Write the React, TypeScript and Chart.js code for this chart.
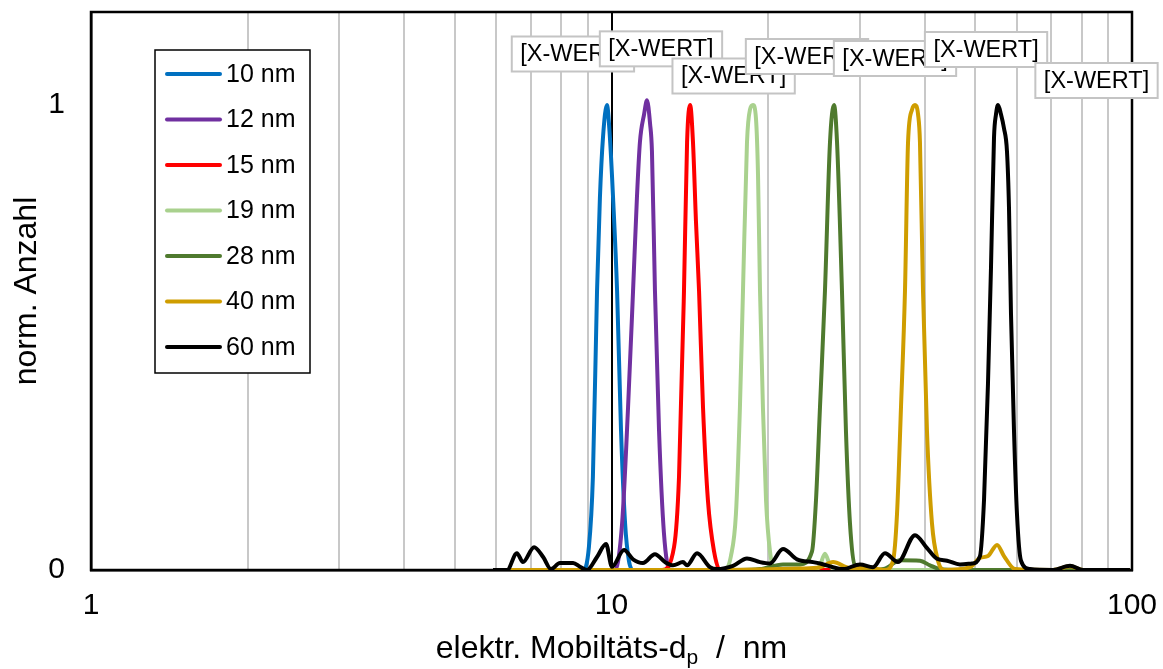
import React, { useEffect, useRef } from 'react';
import { Chart, registerables } from 'chart.js';

Chart.register(...registerables);

// ---------- data ----------
const SERIES_LABELS = ['10 nm', '12 nm', '15 nm', '19 nm', '28 nm', '40 nm', '60 nm'];
const SERIES_COLORS = ['#0070C0', '#7030A0', '#FF0000', '#A9D18E', '#4F7A2E', '#CF9D00', '#000000'];
const X_TICKS = [1, 2, 3, 4, 5, 6, 7, 8, 9, 10, 20, 30, 40, 50, 60, 70, 80, 90, 100];
const X_LABELED = [1, 10, 100];
const Y_LABELED = [0, 1];
const DATA_LABEL_TEXT = '[X-WERT]';
const X_TITLE_MAIN = 'elektr. Mobiltäts-d';
const X_TITLE_SUB = 'p';
const X_TITLE_REST = '  /  nm';
const Y_TITLE = 'norm. Anzahl';

const d10x = [5.92, 8.82, 9.05, 9.21, 9.38, 9.5, 9.63, 9.8, 9.93, 10.07, 10.25, 10.43, 10.62, 10.8, 11.0, 99.1];
const d10y = [0, 0, 0.05, 0.2, 0.6, 0.8, 0.93, 1.0, 0.93, 0.8, 0.6, 0.3, 0.1, 0.02, 0, 0];

const d12x = [5.92, 10.16, 10.48, 10.76, 11.0, 11.19, 11.34, 11.55, 11.7, 11.86, 11.96, 12.12, 12.34, 12.61, 12.95, 99.1];
const d12y = [0, 0, 0.1, 0.35, 0.6, 0.8, 0.92, 0.98, 1.01, 0.96, 0.9, 0.6, 0.3, 0.08, 0, 0];

const d15x = [5.92, 12.51, 13.19, 13.48, 13.78, 13.97, 14.16, 14.34, 14.53, 14.73, 14.99, 15.32, 15.74, 16.16, 99.1];
const d15y = [0, 0, 0.05, 0.2, 0.6, 0.92, 1.0, 0.92, 0.75, 0.6, 0.35, 0.15, 0.04, 0, 0];

const d19x = [5.92, 16.52, 16.96, 17.34, 17.65, 17.89, 18.21, 18.45, 18.7, 18.95, 19.12, 19.29, 19.54, 19.81, 20.16, 20.62, 24.6, 25.15, 25.71, 26.29, 27.0, 99.1];
const d19y = [0, 0, 0.03, 0.12, 0.35, 0.6, 0.92, 0.99, 1.0, 0.97, 0.85, 0.6, 0.35, 0.15, 0.04, 0, 0, 0.01, 0.035, 0.01, 0, 0];

const d28x = [5.92, 17.65, 19.29, 21.35, 23.03, 24.28, 24.71, 25.15, 25.71, 26.29, 26.76, 27.12, 27.72, 28.21, 28.72, 29.36, 31.37, 33.53, 35.83, 39.14, 40.91, 42.77, 46.72, 99.1];
const d28y = [0, 0, 0.002, 0.012, 0.012, 0.04, 0.15, 0.35, 0.6, 0.92, 1.0, 0.92, 0.6, 0.3, 0.1, 0.01, 0, 0.003, 0.021, 0.02, 0.01, 0.002, 0, 0];

const d40x = [5.92, 14.8, 23.03, 25.15, 26.65, 28.72, 31.37, 33.53, 34.74, 35.36, 35.99, 36.63, 37.13, 37.79, 38.3, 38.81, 39.14, 39.67, 40.37, 41.28, 42.39, 43.54, 48.84, 51.04, 52.88, 55.05, 56.76, 59.59, 70.52, 76.02, 80.52, 99.1];
const d40y = [0, 0, 0.003, 0.006, 0.017, 0.004, 0.005, 0, 0.02, 0.12, 0.35, 0.6, 0.92, 0.99, 1.0, 0.98, 0.92, 0.6, 0.3, 0.1, 0.02, 0, 0.006, 0.026, 0.03, 0.054, 0.03, 0.002, 0, 0.008, 0, 0];

const d60x = [5.92, 6.3, 6.58, 6.76, 7.1, 7.39, 7.65, 7.96, 8.44, 8.7, 8.97, 9.38, 9.76, 10.02, 10.57, 11.0, 11.49, 12.12, 12.67, 13.13, 13.72, 13.97, 14.6, 15.46, 15.95, 17.12, 18.21, 19.29, 20.16, 21.35, 22.72, 24.39, 25.16, 27.85, 30.02, 31.8, 33.53, 35.51, 38.3, 40.39, 42.21, 44.12, 46.72, 49.27, 51.04, 51.96, 52.88, 53.59, 54.31, 54.79, 55.28, 56.01, 56.76, 57.52, 58.03, 58.55, 59.33, 60.12, 61.19, 63.68, 70.52, 76.02, 80.52, 99.1];
const d60y = [0, 0, 0.036, 0.017, 0.049, 0.028, 0.002, 0.015, 0.015, 0.007, 0, 0.028, 0.056, 0.007, 0.043, 0.023, 0.015, 0.034, 0.017, 0.01, 0.017, 0.01, 0.036, 0.006, 0.002, 0.009, 0.025, 0.017, 0.014, 0.045, 0.023, 0.017, 0.014, 0.002, 0.012, 0.006, 0.036, 0.017, 0.075, 0.047, 0.024, 0.02, 0.012, 0.014, 0.03, 0.15, 0.4, 0.65, 0.93, 0.98, 1.0, 0.98, 0.95, 0.9, 0.78, 0.55, 0.3, 0.12, 0.02, 0.002, 0, 0.009, 0, 0];

const SERIES_X = [d10x, d12x, d15x, d19x, d28x, d40x, d60x];
const SERIES_Y = [d10y, d12y, d15y, d19y, d28y, d40y, d60y];

// ---------- style ----------
const FONT = '"Liberation Sans", Arial, sans-serif';
const TICK_SIZE = 30;
const LEGEND_SIZE = 25;
const TITLE_SIZE = 32;
const LABEL_SIZE = 23.5;
// data-label box centre offsets relative to each peak (px)
const LABEL_OFFSETS = [
  [-34, -51], [14, -51.5], [43.5, -29], [54, -48.5], [61, -46.5], [71, -55.5], [98.5, -24.5],
];

const framePlugin = {
  id: 'frame',
  beforeDatasetsDraw(chart: any) {
    const { ctx, chartArea: a } = chart;
    ctx.save();
    ctx.strokeStyle = '#000';
    ctx.lineWidth = 2.5;
    ctx.strokeRect(a.left, a.top, a.right - a.left, a.bottom - a.top);
    ctx.restore();
  },
};

const legendPlugin = {
  id: 'customLegend',
  afterDatasetsDraw(chart: any) {
    const { ctx, chartArea: a } = chart;
    const bx = a.left + 64, by = a.top + 38, bw = 155, bh = 323;
    ctx.save();
    ctx.fillStyle = '#fff';
    ctx.fillRect(bx, by, bw, bh);
    ctx.strokeStyle = '#000';
    ctx.lineWidth = 1.5;
    ctx.strokeRect(bx, by, bw, bh);
    ctx.font = `${LEGEND_SIZE}px ${FONT}`;
    ctx.textBaseline = 'middle';
    ctx.textAlign = 'left';
    SERIES_LABELS.forEach((lab, i) => {
      const y = by + 24 + i * 45.5;
      ctx.strokeStyle = SERIES_COLORS[i];
      ctx.lineWidth = 4;
      ctx.lineCap = 'round';
      ctx.beginPath();
      ctx.moveTo(bx + 12, y);
      ctx.lineTo(bx + 65, y);
      ctx.stroke();
      ctx.fillStyle = '#000';
      ctx.fillText(lab, bx + 71, y + 1);
    });
    ctx.restore();
  },
};

const dataLabelPlugin = {
  id: 'dataLabels',
  afterDatasetsDraw(chart: any) {
    const { ctx } = chart;
    ctx.save();
    ctx.font = `${LABEL_SIZE}px ${FONT}`;
    ctx.textBaseline = 'middle';
    ctx.textAlign = 'center';
    chart.data.datasets.forEach((ds: any, i: number) => {
      const meta = chart.getDatasetMeta(i);
      let best = 0;
      ds.data.forEach((p: any, j: number) => { if (p.y > ds.data[best].y) best = j; });
      const el = meta.data[best];
      const cx = el.x + LABEL_OFFSETS[i][0];
      const cy = el.y + LABEL_OFFSETS[i][1];
      const w = ctx.measureText(DATA_LABEL_TEXT).width + 17;
      const h = 35;
      ctx.fillStyle = '#fff';
      ctx.fillRect(cx - w / 2, cy - h / 2, w, h);
      ctx.strokeStyle = '#c4c4c4';
      ctx.lineWidth = 2;
      ctx.strokeRect(cx - w / 2, cy - h / 2, w, h);
      ctx.fillStyle = '#000';
      ctx.fillText(DATA_LABEL_TEXT, cx, cy + 1);
    });
    ctx.restore();
  },
};

const titlesPlugin = {
  id: 'titles',
  afterDraw(chart: any) {
    const { ctx, chartArea: a } = chart;
    ctx.save();
    ctx.fillStyle = '#000';
    ctx.textBaseline = 'alphabetic';
    ctx.textAlign = 'left';
    const main = `${TITLE_SIZE}px ${FONT}`;
    const sub = `${Math.round(TITLE_SIZE * 0.65)}px ${FONT}`;
    ctx.font = main;
    const w1 = ctx.measureText(X_TITLE_MAIN).width;
    const w3 = ctx.measureText(X_TITLE_REST).width;
    ctx.font = sub;
    const w2 = ctx.measureText(X_TITLE_SUB).width;
    const total = w1 + w2 + w3;
    const cx = (a.left + a.right) / 2;
    const base = 658;
    let x = cx - total / 2;
    ctx.font = main;
    ctx.fillText(X_TITLE_MAIN, x, base);
    x += w1;
    ctx.font = sub;
    ctx.fillText(X_TITLE_SUB, x, base + 6);
    x += w2;
    ctx.font = main;
    ctx.fillText(X_TITLE_REST, x, base);

    ctx.translate(27, (a.top + a.bottom) / 2);
    ctx.rotate(-Math.PI / 2);
    ctx.textAlign = 'center';
    ctx.textBaseline = 'middle';
    ctx.font = main;
    ctx.fillText(Y_TITLE, 0, 0);
    ctx.restore();
  },
};

const zeroPad = (s: any) => { s.paddingLeft = 0; s.paddingRight = 0; s.paddingTop = 0; s.paddingBottom = 0; };

export default function App() {
  const ref = useRef<HTMLCanvasElement | null>(null);
  useEffect(() => {
    if (!ref.current) return;
    Chart.defaults.font.family = FONT;
    const datasets = SERIES_LABELS.map((label, i) => ({
      label,
      data: SERIES_X[i].map((x, j) => ({ x, y: SERIES_Y[i][j] })),
      borderColor: SERIES_COLORS[i],
      backgroundColor: SERIES_COLORS[i],
      borderWidth: 4,
      pointRadius: 0,
      fill: false,
      cubicInterpolationMode: 'monotone' as const,
      order: SERIES_LABELS.length - i,
    }));
    const chart = new Chart(ref.current, {
      type: 'line',
      data: { datasets },
      options: {
        animation: false,
        responsive: false,
        devicePixelRatio: 1,
        layout: { padding: { top: 12, right: 31, left: 0, bottom: 0 } },
        plugins: { legend: { display: false }, tooltip: { enabled: false } },
        scales: {
          x: {
            type: 'logarithmic',
            min: 1,
            max: 100,
            afterBuildTicks: (s: any) => { s.ticks = X_TICKS.map((v) => ({ value: v, major: X_LABELED.includes(v) })); },
            afterFit: (s: any) => { s.height = 99; zeroPad(s); },
            ticks: {
              autoSkip: false,
              maxRotation: 0,
              padding: 18,
              color: '#000',
              font: { size: TICK_SIZE, family: FONT },
              callback: (v: any) => (X_LABELED.includes(Number(v)) ? String(v) : ''),
            },
            grid: {
              drawTicks: false,
              color: (c: any) => (c.tick && X_LABELED.includes(c.tick.value) ? '#000' : '#c8c8c8'),
              lineWidth: 2,
            },
            border: { display: true, color: '#000', width: 2.5 },
          },
          y: {
            type: 'linear',
            min: 0,
            max: 1.2,
            afterFit: (s: any) => { s.width = 91; zeroPad(s); },
            ticks: {
              stepSize: 1,
              includeBounds: false,
              padding: 26,
              color: '#000',
              font: { size: TICK_SIZE, family: FONT },
              callback: (v: any) => (Y_LABELED.includes(Number(v)) ? String(v) : ''),
            },
            grid: { display: false, drawTicks: false },
            border: { display: true, color: '#000', width: 2.5 },
          },
        },
      },
      plugins: [framePlugin, legendPlugin, dataLabelPlugin, titlesPlugin],
    });
    return () => chart.destroy();
  }, []);
  return (
    <div style={{ position: 'fixed', left: 0, top: 0, width: 1163, height: 669, background: '#fff' }}>
      <canvas ref={ref} width={1163} height={669} style={{ display: 'block' }} />
    </div>
  );
}
